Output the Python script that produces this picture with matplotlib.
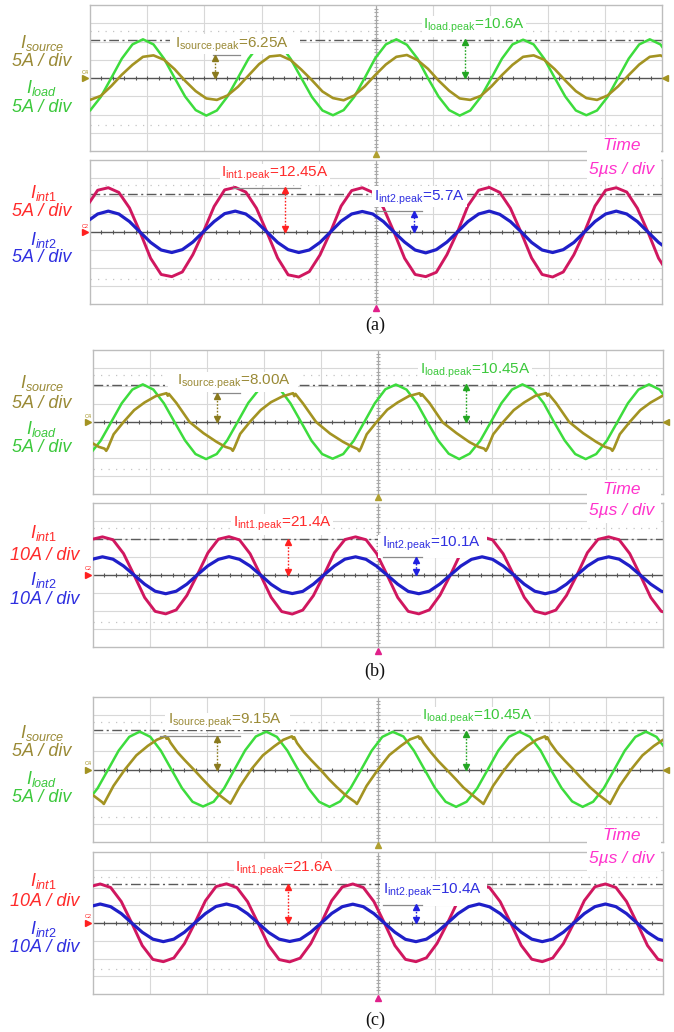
import numpy as np
import matplotlib
matplotlib.use('Agg')
import matplotlib.pyplot as plt
from matplotlib.patches import Rectangle
from matplotlib.lines import Line2D
from matplotlib.transforms import offset_copy

plt.rcParams['font.family'] = ['Liberation Sans', 'DejaVu Sans']
plt.rcParams['mathtext.fontset'] = 'custom'
plt.rcParams['mathtext.rm'] = 'Liberation Sans'
plt.rcParams['mathtext.it'] = 'Liberation Sans:italic'
plt.rcParams['mathtext.bf'] = 'Liberation Sans:bold'

# ------------------------------------------------------------------ data
# time in microseconds (5 us/div, 10 div), currents in A

# (a) top: sample times and traces
T_A_TOP = [-0.91, 0.01, 0.94, 1.86, 2.78, 3.71, 4.63, 5.55, 6.47, 7.40, 8.32, 9.24,
           10.17, 11.09, 12.01, 12.94, 13.86, 14.78, 15.70, 16.63, 17.55, 18.47, 19.40, 20.32,
           21.24, 22.17, 23.09, 24.01, 24.93, 25.86, 26.78, 27.70, 28.63, 29.55, 30.47, 31.40,
           32.32, 33.24, 34.16, 35.09, 36.01, 36.93, 37.86, 38.78, 39.70, 40.63, 41.55, 42.47,
           43.39, 44.32, 45.24, 46.16, 47.09, 48.01, 48.93, 49.86, 50.78]
I_LOAD_A = [-10.2, -8.9, -5.2, 0.0, 5.3, 9.2, 10.6, 9.2, 5.3, 0.0, -5.1, -8.8,
            -10.3, -8.9, -5.1, 0.1, 5.3, 9.1, 10.6, 9.2, 5.2, 0.0, -5.2, -8.9,
            -10.2, -8.8, -5.2, 0.0, 5.4, 9.2, 10.6, 9.1, 5.3, -0.1, -5.1, -8.8,
            -10.3, -8.9, -5.2, 0.0, 5.3, 9.2, 10.5, 9.2, 5.3, 0.0, -5.1, -8.9,
            -10.2, -8.9, -5.2, 0.0, 5.3, 9.2, 10.6, 9.2, 5.3]
I_SOURCE_A = [-5.5, -6.0, -4.9, -2.2, 0.9, 3.6, 5.8, 6.2, 5.0, 2.4, -0.8, -3.6,
              -5.6, -6.0, -4.8, -2.4, 0.7, 3.8, 5.9, 6.2, 4.9, 2.3, -0.6, -3.7,
              -5.5, -6.1, -4.8, -2.3, 0.8, 3.7, 5.8, 6.3, 4.9, 2.5, -0.7, -3.5,
              -5.6, -6.0, -4.9, -2.3, 0.8, 3.6, 5.8, 6.2, 5.0, 2.4, -0.7, -3.6,
              -5.5, -6.0, -4.8, -2.3, 0.8, 3.7, 5.8, 6.2, 4.9]

# (a) bottom
T_A_BOT = [-1.18, -0.26, 0.67, 1.60, 2.52, 3.45, 4.37, 5.30, 6.22, 7.15, 8.07, 8.99,
           9.92, 10.85, 11.77, 12.70, 13.62, 14.55, 15.47, 16.40, 17.32, 18.25, 19.17, 20.10,
           21.02, 21.95, 22.87, 23.80, 24.72, 25.65, 26.57, 27.50, 28.42, 29.35, 30.27, 31.20,
           32.12, 33.04, 33.97, 34.90, 35.82, 36.75, 37.67, 38.60, 39.52, 40.44, 41.37, 42.30,
           43.22, 44.14, 45.07, 46.00, 46.92, 47.85, 48.77, 49.70, 50.62]
I_INT1_A = [0.0, 7.2, 11.6, 12.3, 11.0, 6.7, 0.0, -7.3, -11.8, -12.4, -11.1, -6.3,
            0.1, 7.1, 11.7, 12.4, 11.1, 6.6, -0.1, -7.2, -11.9, -12.5, -11.0, -6.4,
            0.0, 7.2, 11.5, 12.3, 11.0, 6.7, 0.0, -7.3, -11.8, -12.4, -11.2, -6.3,
            0.0, 7.3, 11.6, 12.4, 11.0, 6.6, 0.0, -7.2, -11.8, -12.5, -11.1, -6.3,
            0.0, 7.2, 11.6, 12.3, 11.1, 6.6, 0.0, -7.3, -11.8]
I_INT2_A = [0.0, 2.9, 5.0, 5.8, 5.0, 2.9, 0.0, -2.9, -5.0, -5.7, -4.9, -2.8,
            0.1, 2.9, 5.1, 5.8, 5.0, 2.8, 0.0, -2.9, -4.9, -5.7, -5.0, -2.9,
            0.0, 3.0, 5.0, 5.7, 5.0, 2.9, 0.0, -2.8, -5.0, -5.8, -4.9, -2.8,
            0.0, 2.9, 5.0, 5.8, 4.9, 2.9, 0.1, -2.9, -5.0, -5.7, -4.9, -2.9,
            0.0, 2.9, 5.0, 5.8, 5.0, 2.9, 0.0, -2.9, -5.0]

# (b) top (green sampled on T_B_TOP, source has its own time list)
T_B_TOP = [-1.18, -0.26, 0.67, 1.60, 2.52, 3.45, 4.37, 5.30, 6.22, 7.15, 8.07, 8.99,
           9.92, 10.85, 11.77, 12.70, 13.62, 14.55, 15.47, 16.40, 17.32, 18.25, 19.17, 20.10,
           21.02, 21.95, 22.87, 23.80, 24.72, 25.65, 26.57, 27.50, 28.42, 29.35, 30.27, 31.20,
           32.12, 33.04, 33.97, 34.90, 35.82, 36.75, 37.67, 38.60, 39.52, 40.44, 41.37, 42.30,
           43.22, 44.14, 45.07, 46.00, 46.92, 47.85, 48.77, 49.70, 50.62]
I_LOAD_B = [-10.3, -8.9, -5.2, 0.0, 5.2, 9.0, 10.45, 9.0, 5.2, 0.0, -5.1, -8.9,
            -10.3, -8.9, -5.1, 0.1, 5.3, 9.0, 10.45, 9.1, 5.2, 0.0, -5.2, -8.9,
            -10.2, -8.9, -5.2, 0.0, 5.2, 9.1, 10.4, 9.0, 5.2, -0.1, -5.1, -8.8,
            -10.3, -8.8, -5.2, 0.0, 5.2, 9.0, 10.45, 9.0, 5.3, 0.0, -5.1, -8.9,
            -10.3, -8.9, -5.2, 0.0, 5.2, 9.0, 10.45, 9.0, 5.2]
T_SRC_B = [-0.27, 0.51,
           1.01, 1.16, 1.31, 1.81, 2.68, 3.61, 4.51, 5.51, 6.45, 6.56, 6.66, 7.31, 8.47, 9.69, 10.83, 11.61,
           12.11, 12.26, 12.41, 12.91, 13.78, 14.71, 15.61, 16.61, 17.55, 17.66, 17.76, 18.41, 19.57, 20.79, 21.93, 22.71,
           23.21, 23.36, 23.51, 24.01, 24.88, 25.81, 26.71, 27.71, 28.65, 28.76, 28.86, 29.51, 30.67, 31.89, 33.03, 33.81,
           34.31, 34.46, 34.61, 35.11, 35.98, 36.91, 37.81, 38.81, 39.75, 39.86, 39.96, 40.61, 41.77, 42.99, 44.13, 44.91,
           45.41, 45.56, 45.71, 46.21, 47.08, 48.01, 48.91, 49.91, 50.85]
I_SOURCE_B = [-5.5, -6.9,
              -7.4, -8.0, -7.2, -3.4, 0.0, 3.3, 5.4, 7.2, 8.0, 7.3, 7.8, 5.3, 0.0, -3.1, -5.5, -6.9,
              -7.4, -8.0, -7.1, -3.3, 0.1, 3.3, 5.5, 7.1, 8.0, 7.2, 7.8, 5.2, 0.0, -3.2, -5.5, -6.8,
              -7.5, -8.1, -7.2, -3.4, 0.0, 3.4, 5.4, 7.2, 8.0, 7.3, 7.7, 5.3, -0.1, -3.1, -5.6, -6.9,
              -7.4, -8.0, -7.2, -3.4, 0.0, 3.3, 5.4, 7.3, 8.0, 7.3, 7.8, 5.3, 0.0, -3.1, -5.5, -6.9,
              -7.4, -8.0, -7.2, -3.4, 0.0, 3.3, 5.4, 7.2, 8.0]

# (b) bottom
T_B_BOT = [-1.95, -1.03, -0.10, 0.83, 1.75, 2.68, 3.60, 4.53, 5.45, 6.38, 7.30, 8.23,
           9.15, 10.08, 11.00, 11.93, 12.85, 13.78, 14.70, 15.63, 16.55, 17.48, 18.40, 19.33,
           20.25, 21.18, 22.10, 23.03, 23.95, 24.88, 25.80, 26.73, 27.65, 28.58, 29.50, 30.43,
           31.35, 32.27, 33.20, 34.13, 35.05, 35.98, 36.90, 37.83, 38.75, 39.67, 40.60, 41.53,
           42.45, 43.37, 44.30, 45.23, 46.15, 47.08, 48.00, 48.93, 49.85, 50.78]
I_INT1_B = [0.0, 12.4, 19.8, 21.2, 19.6, 11.9, 0.0, -12.5, -20.2, -21.6, -19.4, -11.4,
            0.1, 12.3, 19.9, 21.3, 19.5, 11.8, -0.1, -12.4, -20.3, -21.7, -19.5, -11.5,
            0.0, 12.4, 19.7, 21.2, 19.6, 11.9, 0.0, -12.5, -20.2, -21.6, -19.4, -11.3,
            0.0, 12.3, 19.8, 21.3, 19.5, 11.8, 0.0, -12.4, -20.1, -21.6, -19.5, -11.4,
            0.0, 12.4, 19.8, 21.2, 19.6, 11.9, 0.0, -12.5, -20.2, -21.6]
I_INT2_B = [0.0, 5.0, 8.7, 10.1, 8.8, 5.0, 0.0, -5.1, -9.0, -10.4, -9.0, -5.1,
            0.1, 5.1, 8.7, 10.2, 8.7, 5.0, 0.0, -5.2, -9.0, -10.3, -9.1, -5.1,
            0.0, 5.0, 8.8, 10.1, 8.7, 4.9, 0.0, -5.1, -9.1, -10.4, -9.0, -5.0,
            0.0, 5.0, 8.7, 10.1, 8.7, 5.0, 0.1, -5.1, -9.0, -10.4, -9.0, -5.1,
            0.0, 5.0, 8.7, 10.1, 8.8, 5.0, 0.0, -5.1, -9.0, -10.4]

# (c) top
T_C_TOP = [-1.45, -0.53, 0.40, 1.33, 2.25, 3.18, 4.10, 5.03, 5.95, 6.88, 7.80, 8.73,
           9.65, 10.58, 11.50, 12.43, 13.35, 14.28, 15.20, 16.13, 17.05, 17.98, 18.90, 19.83,
           20.75, 21.68, 22.60, 23.53, 24.45, 25.38, 26.30, 27.23, 28.15, 29.08, 30.00, 30.93,
           31.85, 32.77, 33.70, 34.63, 35.55, 36.48, 37.40, 38.33, 39.25, 40.17, 41.10, 42.03,
           42.95, 43.87, 44.80, 45.73, 46.65, 47.58, 48.50, 49.43, 50.35]
I_LOAD_C = [-10.3, -8.9, -5.2, 0.0, 5.2, 9.0, 10.45, 9.0, 5.2, 0.0, -5.1, -8.9,
            -10.2, -8.9, -5.2, 0.1, 5.3, 9.1, 10.45, 9.0, 5.2, 0.0, -5.2, -8.9,
            -10.3, -8.8, -5.1, 0.0, 5.2, 9.0, 10.4, 9.1, 5.2, 0.0, -5.1, -8.9,
            -10.3, -8.9, -5.2, 0.0, 5.2, 9.0, 10.45, 9.0, 5.3, -0.1, -5.1, -8.8,
            -10.3, -8.9, -5.2, 0.0, 5.2, 9.0, 10.45, 9.0, 5.2]
T_SRC_C = [-0.8, 0.0,
           0.8, 0.95, 1.1, 1.8, 2.8, 3.8, 4.8, 5.6, 6.35, 6.45, 6.55, 6.8, 7.4, 8.1, 8.84, 9.6, 10.3, 11.1,
           11.9, 12.05, 12.2, 12.9, 13.9, 14.9, 15.9, 16.7, 17.45, 17.55, 17.65, 17.9, 18.5, 19.2, 19.94, 20.7, 21.4, 22.2,
           23.0, 23.15, 23.3, 24.0, 25.0, 26.0, 27.0, 27.8, 28.55, 28.65, 28.75, 29.0, 29.6, 30.3, 31.04, 31.8, 32.5, 33.3,
           34.1, 34.25, 34.4, 35.1, 36.1, 37.1, 38.1, 38.9, 39.65, 39.75, 39.85, 40.1, 40.7, 41.4, 42.14, 42.9, 43.6, 44.4,
           45.2, 45.35, 45.5, 46.2, 47.2, 48.2, 49.2, 50.0, 50.75]
I_SOURCE_C = [-4.9, -7.1,
              -9.0, -9.5, -8.6, -4.5, 0.0, 3.9, 6.5, 8.2, 9.15, 8.5, 8.9, 7.4, 4.8, 2.4, 0.0, -2.6, -4.9, -7.1,
              -9.0, -9.4, -8.6, -4.6, 0.1, 3.9, 6.4, 8.2, 9.15, 8.5, 8.9, 7.3, 4.8, 2.4, 0.0, -2.7, -4.9, -7.2,
              -9.0, -9.5, -8.7, -4.5, 0.0, 4.0, 6.5, 8.3, 9.15, 8.5, 8.8, 7.4, 4.9, 2.3, -0.1, -2.6, -5.0, -7.1,
              -9.1, -9.5, -8.6, -4.5, 0.0, 3.9, 6.5, 8.2, 9.15, 8.4, 8.9, 7.4, 4.8, 2.4, 0.0, -2.6, -4.9, -7.1,
              -9.0, -9.5, -8.6, -4.5, 0.0, 3.9, 6.5, 8.2, 9.15]

# (c) bottom
T_C_BOT = [-2.14, -1.22, -0.29, 0.63, 1.55, 2.48, 3.40, 4.32, 5.25, 6.17, 7.09, 8.02,
           8.94, 9.86, 10.79, 11.71, 12.63, 13.56, 14.48, 15.40, 16.33, 17.25, 18.17, 19.10,
           20.02, 20.94, 21.87, 22.79, 23.71, 24.64, 25.56, 26.48, 27.41, 28.33, 29.25, 30.18,
           31.10, 32.02, 32.95, 33.87, 34.79, 35.72, 36.64, 37.56, 38.49, 39.41, 40.33, 41.26,
           42.18, 43.10, 44.03, 44.95, 45.87, 46.80, 47.72, 48.64, 49.57, 50.49]
I_INT1_C = [0.0, 12.6, 20.4, 22.0, 20.0, 12.1, 0.0, -12.7, -20.5, -21.8, -19.7, -11.6,
            0.1, 12.5, 20.5, 22.1, 19.9, 12.0, -0.1, -12.6, -20.6, -21.9, -19.8, -11.7,
            0.0, 12.6, 20.3, 22.0, 20.0, 12.1, 0.0, -12.7, -20.5, -21.8, -19.6, -11.5,
            0.0, 12.5, 20.4, 22.1, 19.9, 12.0, 0.0, -12.6, -20.4, -21.8, -19.7, -11.6,
            0.0, 12.6, 20.4, 22.0, 20.0, 12.1, 0.0, -12.7, -20.5, -21.8]
I_INT2_C = [0.0, 5.3, 9.2, 10.7, 9.2, 5.3, 0.0, -5.2, -9.1, -10.5, -9.1, -5.2,
            0.1, 5.3, 9.3, 10.7, 9.2, 5.2, 0.0, -5.3, -9.1, -10.4, -9.2, -5.2,
            0.0, 5.4, 9.2, 10.6, 9.2, 5.3, 0.0, -5.2, -9.2, -10.5, -9.1, -5.1,
            0.0, 5.3, 9.2, 10.7, 9.1, 5.3, 0.1, -5.2, -9.1, -10.5, -9.1, -5.2,
            0.0, 5.3, 9.2, 10.7, 9.2, 5.3, 0.0, -5.2, -9.1, -10.5]

PEAK_TEXT = {
    'a': ('6.25A', '10.6A', '12.45A', '5.7A'),
    'b': ('8.00A', '10.45A', '21.4A', '10.1A'),
    'c': ('9.15A', '10.45A', '21.6A', '10.4A'),
}
PEAK_VAL = {
    'a': (6.25, 10.6, 12.3, 5.7),
    'b': (8.0, 10.45, 19.9, 10.1),
    'c': (9.15, 10.45, 21.6, 10.4),
}
SCALE_TOP = {'a': '5A / div', 'b': '5A / div', 'c': '5A / div'}
SCALE_BOT = {'a': '5A / div', 'b': '10A / div', 'c': '10A / div'}

# ------------------------------------------------------------------ style
C_LOAD = '#3ddc3d'
C_SRC = '#a39322'
C_INT1 = '#d0175f'
C_INT2 = '#1f1fc8'
TXT_SRC = '#9a8a36'
TXT_LOAD = '#3cc83c'
TXT_INT1 = '#ff2b2b'
TXT_INT2 = '#2f2fe0'
C_TIME = '#ff33cc'

W, H = 674, 1032
fig = plt.figure(figsize=(W / 100, H / 100), dpi=100)
fig.patch.set_facecolor('white')


def scope_axes(x0, x1, y0, y1, ylim):
    ax = fig.add_axes([x0 / W, 1 - y1 / H, (x1 - x0) / W, (y1 - y0) / H])
    ax.set_xlim(0, 50)
    ax.set_ylim(-ylim, ylim)
    ax.set_xticks([])
    ax.set_yticks([])
    for s in ax.spines.values():
        s.set_color('#bdbdbd')
        s.set_linewidth(1.0)
    div = ylim / 4.0
    for i in range(1, 10):
        if i != 5:
            ax.axvline(i * 5, color='#d8d8d8', lw=0.8, zorder=1)
    for j in (-3, -2, -1, 1, 2, 3):
        ax.axhline(j * div, color='#d8d8d8', lw=0.8, zorder=1)
    for j in (-2.6, 2.6):
        ax.axhline(j * div, color='#c4c4c4', lw=0.9, ls=(0, (1, 5)), zorder=1)
    ax.axvline(25, color='#a8a8a8', lw=0.9, zorder=1.2)
    ax.axhline(0, color='#555555', lw=1.0, zorder=1.5)
    xt = np.arange(1, 50, 1.0)
    ax.plot(xt, np.zeros_like(xt), ls='none', marker='|', ms=3.5, mew=0.8,
            color='#555555', zorder=1.5)
    yt = np.arange(-ylim + div / 5, ylim, div / 5)
    ax.plot(np.full_like(yt, 25.0), yt, ls='none', marker='_', ms=3.5, mew=0.8,
            color='#a8a8a8', zorder=1.2)
    return ax


def dashdot(ax, level):
    ax.axhline(level, color='#5a5a5a', lw=1.0, ls=(0, (7, 2.5, 1.5, 2.5)), zorder=2)


def peak_arrow(ax, t, top, color):
    ax.plot([t, t], [0, top], color=color, lw=1.0, ls=(0, (1.2, 1.2)), zorder=6)
    tr_up = offset_copy(ax.transData, fig=fig, x=0, y=-2.0, units='points')
    ax.plot([t], [top], marker='^', ms=4.5, color=color, transform=tr_up, zorder=6)
    tr_dn = offset_copy(ax.transData, fig=fig, x=0, y=2.0, units='points')
    ax.plot([t], [0], marker='v', ms=4.5, color=color, transform=tr_dn, zorder=6)


def ref_line(ax, t0, t1, lvl):
    ax.plot([t0, t1], [lvl, lvl], color='#8a8a8a', lw=0.9, zorder=5)


def white_box(ax, t0, t1, a0, a1):
    ax.add_patch(Rectangle((t0, a0), t1 - t0, a1 - a0, facecolor='white',
                           edgecolor='none', zorder=3.5))


def fig_marker(px, py, marker, color, ms=4.5):
    fig.add_artist(Line2D([px / W], [1 - py / H], marker=marker, ms=ms, color=color,
                          transform=fig.transFigure, zorder=12, ls='none'))


def fig_label(px, py, s, color, size=13, style='italic', **kw):
    fig.text(px / W, 1 - py / H, s, color=color, fontsize=size, style=style,
             ha='center', va='center', zorder=12, **kw)


def peak_label(ax, t, a, name, value, color, box=False):
    s = r'$\mathrm{I_{%s.\!peak}}$=%s' % (name, value)
    kw = {}
    if box:
        kw['bbox'] = dict(facecolor='white', edgecolor='none', pad=1.0)
    ax.text(t, a, s, color=color, fontsize=11, ha='center', va='center', zorder=7, **kw)


# ------------------------------------------------------------------ panels
LAYOUT = {
    'a': dict(top=(90, 662, 5, 151), bot=(90, 662, 160, 304), ylim_b=20,
              dd=(10.45, 10.6), cap=325, lab_top=(43, 62, 88, 107), lab_bot=(193, 212, 240, 258),
              time=(146, 169), cx=376,
              src_box=(7.0, 18.36, 6.6, 12.05), src_lab=(12.41, 9.0), src_ref=(10.75, 13.1), src_arr=10.9,
              load_lab=(33.57, 14.2), load_arr=32.78,
              i1_lab=(16.17, 16.1), i1_ref=(12.5, 18.36), i1_arr=17.05,
              i2_box=(24.65, 32.95, 6.9, 12.8), i2_lab=(28.76, 9.4), i2_ref=(24.9, 29.0), i2_arr=28.3),
    'b': dict(top=(93, 663, 350, 494), bot=(93, 663, 503, 647), ylim_b=40,
              dd=(10.3, 19.8), cap=671, lab_top=(383, 403, 429, 447), lab_bot=(533, 556, 580, 600),
              time=(489, 511), cx=378,
              src_box=(6.6, 18.0, 8.3, 13.9), src_lab=(12.37, 11.1), src_ref=(10.5, 12.9), src_arr=10.9,
              load_lab=(33.5, 14.2), load_arr=32.7,
              i1_lab=(16.6, 28.3), i1_ref=None, i1_arr=17.1,
              i2_box=(25.0, 34.6, 9.4, 22.2), i2_lab=(29.7, 17.2), i2_ref=(25.4, 28.9), i2_arr=28.3),
    'c': dict(top=(93, 663, 697, 842), bot=(93, 663, 852, 994), ylim_b=40,
              dd=(10.8, 22.2), cap=1020, lab_top=(733, 752, 779, 797), lab_bot=(881, 902, 929, 947),
              time=(836, 859), cx=378,
              src_box=(6.3, 17.3, 11.0, 15.7), src_lab=(11.6, 13.3), src_ref=(5.9, 12.9), src_arr=10.9,
              load_lab=(33.7, 14.4), load_arr=32.7,
              i1_lab=(16.8, 30.4), i1_ref=None, i1_arr=17.1,
              i2_box=(25.2, 34.6, 9.6, 24.2), i2_lab=(29.8, 18.0), i2_ref=(25.4, 28.9), i2_arr=28.3),
}

TRACES = {
    'a': (T_A_TOP, I_LOAD_A, T_A_TOP, I_SOURCE_A, T_A_BOT, I_INT1_A, I_INT2_A),
    'b': (T_B_TOP, I_LOAD_B, T_SRC_B, I_SOURCE_B, T_B_BOT, I_INT1_B, I_INT2_B),
    'c': (T_C_TOP, I_LOAD_C, T_SRC_C, I_SOURCE_C, T_C_BOT, I_INT1_C, I_INT2_C),
}

for key in ('a', 'b', 'c'):
    L = LAYOUT[key]
    tl, il, ts, isrc, tb, i1, i2 = TRACES[key]
    p_src, p_load, p_i1, p_i2 = PEAK_VAL[key]
    s_src, s_load, s_i1, s_i2 = PEAK_TEXT[key]

    # ---- top axes: source and load current
    axt = scope_axes(*L['top'], 20)
    dashdot(axt, L['dd'][0])
    axt.plot(tl, il, color=C_LOAD, lw=1.8, zorder=3, solid_joinstyle='round')
    white_box(axt, *L['src_box'])
    axt.plot(ts, isrc, color=C_SRC, lw=1.9, zorder=4, solid_joinstyle='round')
    ref_line(axt, *L['src_ref'], p_src)
    peak_arrow(axt, L['src_arr'], p_src, '#8a7a1e')
    peak_label(axt, *L['src_lab'], 'source', s_src, TXT_SRC)
    peak_arrow(axt, L['load_arr'], p_load, '#22a522')
    peak_label(axt, *L['load_lab'], 'load', s_load, TXT_LOAD, box=True)

    # ---- bottom axes: interleaved currents
    yb = L['ylim_b']
    axb = scope_axes(*L['bot'], yb)
    dashdot(axb, L['dd'][1])
    axb.plot(tb, i1, color=C_INT1, lw=2.1, zorder=3, solid_joinstyle='round')
    white_box(axb, *L['i2_box'])
    axb.plot(tb, i2, color=C_INT2, lw=2.3, zorder=4, solid_joinstyle='round')
    if L['i1_ref'] is not None:
        ref_line(axb, *L['i1_ref'], p_i1)
    peak_arrow(axb, L['i1_arr'], p_i1, '#ff2020')
    peak_label(axb, *L['i1_lab'], 'int1', s_i1, TXT_INT1, box=True)
    ref_line(axb, *L['i2_ref'], p_i2)
    peak_arrow(axb, L['i2_arr'], p_i2, '#2020e0')
    peak_label(axb, *L['i2_lab'], 'int2', s_i2, TXT_INT2)

    # ---- channel markers
    x0t, x1t, y0t, y1t = L['top']
    x0b, x1b, y0b, y1b = L['bot']
    zt = (y0t + y1t) / 2
    zb = (y0b + y1b) / 2
    fig_marker(x0t - 5, zt, '>', '#a39322', 5)
    fig_marker(x1t + 3, zt, '<', '#a39322', 4)
    fig_marker(x0b - 5, zb, '>', '#ff2020', 5)
    fig.text((x0t - 5) / W, 1 - (zt - 6) / H, 'C4', fontsize=4, color='#a39322',
             ha='center', va='center', zorder=12)
    fig.text((x0b - 5) / W, 1 - (zb - 6) / H, 'C2', fontsize=4, color='#ff2020',
             ha='center', va='center', zorder=12)
    fig_marker(L['cx'], y1t + 3, '^', '#b0a030', 4)
    fig_marker(L['cx'], y1b + 4, '^', '#e0208a', 4)

    # ---- left labels
    a, b_, c_, d_ = L['lab_top']
    fig_label(42, a, r'$I_{source}$', TXT_SRC)
    fig_label(42, b_, SCALE_TOP[key], TXT_SRC)
    fig_label(42, c_, r'$I_{load}$', TXT_LOAD)
    fig_label(42, d_, SCALE_TOP[key], TXT_LOAD)
    a, b_, c_, d_ = L['lab_bot']
    xs = 42 if key == 'a' else 45
    fig_label(43, a, r'$I_{int1}$', TXT_INT1)
    fig_label(xs, b_, SCALE_BOT[key], TXT_INT1)
    fig_label(43, c_, r'$I_{int2}$', TXT_INT2)
    fig_label(xs, d_, SCALE_BOT[key], TXT_INT2)

    # ---- time base box
    ty1, ty2 = L['time']
    fig.add_artist(Rectangle((587 / W, 1 - (ty2 + 12) / H), 74 / W, (ty2 - ty1 + 21) / H,
                             transform=fig.transFigure, facecolor='white',
                             edgecolor='none', zorder=10))
    fig_label(622, ty1, 'Time', C_TIME, size=12.5)
    fig_label(622, ty2, '5\u00b5s / div', C_TIME, size=12.5)

    # ---- caption
    fig.text(375 / W, 1 - L['cap'] / H, '(%s)' % key, fontsize=13,
             family='Liberation Serif', ha='center', va='center', color='#111111')

fig.savefig('out.png', dpi=100, facecolor='white')
